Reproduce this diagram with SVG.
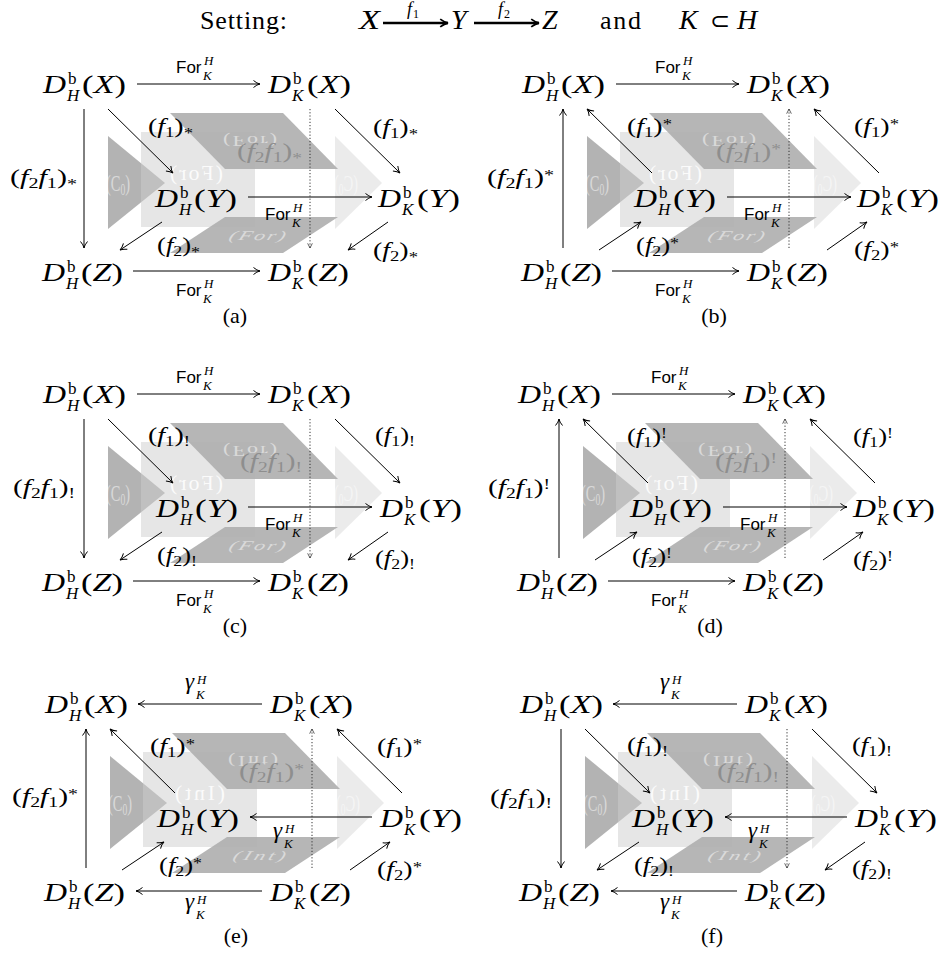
<svg xmlns="http://www.w3.org/2000/svg" xmlns:xlink="http://www.w3.org/1999/xlink" width="946" height="956" viewBox="0 0 946 956" font-family="'Liberation Serif', serif">
<style>
text{font-family:'Liberation Serif',serif;fill:#000}
.n{font-size:26px}
.sp{font-size:17px}
.i{font-style:italic}
.l{font-size:21px}
.g{font-size:23px;font-style:italic}
.s{font-size:14px}
.sf{font-family:'Liberation Sans',sans-serif;font-size:17px}
.sm{font-size:13px;font-style:italic}
.gh{fill:#fff;opacity:.5}
.gw{opacity:.85}
.gl{fill:#8e8e8e}
.cap{font-size:22px}
.e line{stroke:#000;stroke-width:1;marker-end:url(#ah)}
.e line.dt{stroke:#333;stroke-dasharray:1.2 2;marker-end:url(#ahd)}
</style>
<defs>
<marker id="ah" viewBox="0 0 9 9" refX="8" refY="4.5" markerWidth="9" markerHeight="9" orient="auto" markerUnits="userSpaceOnUse"><path d="M1.5,1 Q5,4 8,4.5 Q5,5 1.5,8" fill="none" stroke="#000" stroke-width="1"/></marker>
<marker id="ahd" viewBox="0 0 9 9" refX="8" refY="4.5" markerWidth="7" markerHeight="7" orient="auto" markerUnits="userSpaceOnUse"><path d="M2,1.5 L8,4.5 L2,7.5" fill="none" stroke="#333" stroke-width="1"/></marker>
<marker id="ahb" viewBox="0 0 9 9" refX="8" refY="4.5" markerWidth="10" markerHeight="10" orient="auto" markerUnits="userSpaceOnUse"><path d="M1,1 Q5,4 8,4.5 Q5,5 1,8" fill="none" stroke="#000" stroke-width="1.6"/></marker>
<g id="bg">
<polygon points="108,136 108,229 165,183" fill="#b3b3b3"/>
<polygon points="335,136 335,229 382,183" fill="#ebebeb"/>
<rect x="141" y="132" width="114" height="95" fill="#cdcdcd" fill-opacity="0.5"/>
<polygon points="170,113 283,113 338,169 225,169" fill="#b0b0b0" fill-opacity="0.92"/>
<polygon points="225,217 338,217 283,253 170,253" fill="#b0b0b0" fill-opacity="0.92"/>
</g>
</defs>
<rect width="946" height="956" fill="#fff"/>

<g id="title">
<text x="200" y="29" font-size="26" textLength="87">Setting:</text>
<text class="i" x="359" y="29" font-size="28" textLength="21" lengthAdjust="spacingAndGlyphs">X</text>
<line x1="383" y1="23" x2="448" y2="23" stroke="#000" stroke-width="2.6" marker-end="url(#ahb)"/>
<text class="i" x="407" y="15" font-size="18">f</text><text x="413" y="18" font-size="12">1</text>
<text class="i" x="451" y="29" font-size="28">Y</text>
<line x1="474" y1="23" x2="539" y2="23" stroke="#000" stroke-width="2.6" marker-end="url(#ahb)"/>
<text class="i" x="498" y="15" font-size="18">f</text><text x="504" y="18" font-size="12">2</text>
<text class="i" x="542" y="29" font-size="28">Z</text>
<text x="600" y="29" font-size="26" textLength="41">and</text>
<text class="i" x="679" y="29" font-size="28">K</text>
<text x="710" y="29" font-size="24">⊂</text>
<text class="i" x="737" y="29" font-size="28">H</text>
</g>

<!-- ============ PANEL A ============ -->
<g id="panel-a" transform="translate(0,0)">
<use href="#bg" xlink:href="#bg"/>
<text class="gh" font-size="24" transform="translate(106,191) scale(0.6,1)">(C<tspan font-size="16" dy="4">0</tspan><tspan dy="-4">)</tspan></text>
<text class="gh" font-size="24" transform="translate(358,191) scale(-0.6,1)">(C<tspan font-size="16" dy="4">0</tspan><tspan dy="-4">)</tspan></text>
<text class="gh gw" font-size="22" textLength="53" transform="translate(223,180) scale(-1,1)">(For)</text>
<text class="gh" font-size="22" textLength="54" transform="translate(223,136) scale(1,-0.65)">(For)</text>
<text class="gh i" font-size="22" textLength="56" transform="translate(228,240) skewX(-20) scale(1,0.6)">(For)</text>
<text class="l gl" x="237" y="158" textLength="65" lengthAdjust="spacingAndGlyphs">(<tspan class="i">f</tspan><tspan class="s" dy="4">2</tspan><tspan class="i" dy="-4">f</tspan><tspan class="s" dy="4">1</tspan><tspan dy="-4">)</tspan><tspan class="s" dy="5">*</tspan></text>
<g id="a-edges" class="e">
<line x1="137" y1="84" x2="260" y2="84"/>
<line x1="248" y1="197" x2="372" y2="197"/>
<line x1="133" y1="271" x2="260" y2="271"/>
<line x1="84" y1="109" x2="84" y2="248"/>
<line x1="108" y1="109" x2="173" y2="173"/>
<line x1="335" y1="109" x2="400" y2="173"/>
<line x1="162" y1="222" x2="120" y2="250"/>
<line x1="388" y1="222" x2="348" y2="250"/>
<line class="dt" x1="310" y1="109" x2="310" y2="248"/>
</g>
<g id="a-HX" transform="translate(43,93)"><text class="n i" textLength="23" lengthAdjust="spacingAndGlyphs">D</text><text class="sp" x="25" y="-9">b</text><text class="sp i" x="24" y="8">H</text><text class="n" x="39" textLength="44" lengthAdjust="spacingAndGlyphs">(<tspan class="i">X</tspan>)</text></g>
<g id="a-KX" transform="translate(268,93)"><text class="n i" textLength="23" lengthAdjust="spacingAndGlyphs">D</text><text class="sp" x="25" y="-9">b</text><text class="sp i" x="24" y="8">K</text><text class="n" x="39" textLength="44" lengthAdjust="spacingAndGlyphs">(<tspan class="i">X</tspan>)</text></g>
<g id="a-HY" transform="translate(155,207)"><text class="n i" textLength="23" lengthAdjust="spacingAndGlyphs">D</text><text class="sp" x="25" y="-9">b</text><text class="sp i" x="24" y="8">H</text><text class="n" x="39" textLength="43" lengthAdjust="spacingAndGlyphs">(<tspan class="i">Y</tspan>)</text></g>
<g id="a-KY" transform="translate(378,207)"><text class="n i" textLength="23" lengthAdjust="spacingAndGlyphs">D</text><text class="sp" x="25" y="-9">b</text><text class="sp i" x="24" y="8">K</text><text class="n" x="39" textLength="43" lengthAdjust="spacingAndGlyphs">(<tspan class="i">Y</tspan>)</text></g>
<g id="a-HZ" transform="translate(42,281)"><text class="n i" textLength="23" lengthAdjust="spacingAndGlyphs">D</text><text class="sp" x="25" y="-9">b</text><text class="sp i" x="24" y="8">H</text><text class="n" x="39" textLength="42" lengthAdjust="spacingAndGlyphs">(<tspan class="i">Z</tspan>)</text></g>
<g id="a-KZ" transform="translate(268,281)"><text class="n i" textLength="23" lengthAdjust="spacingAndGlyphs">D</text><text class="sp" x="25" y="-9">b</text><text class="sp i" x="24" y="8">K</text><text class="n" x="39" textLength="42" lengthAdjust="spacingAndGlyphs">(<tspan class="i">Z</tspan>)</text></g>
<g id="a-labels">
<text class="sf" x="176" y="73">For</text><text class="sm" x="204" y="65">H</text><text class="sm" x="203" y="80">K</text>
<text class="sf" x="265" y="220">For</text><text class="sm" x="293" y="212">H</text><text class="sm" x="292" y="227">K</text>
<text class="sf" x="176" y="296">For</text><text class="sm" x="204" y="288">H</text><text class="sm" x="203" y="303">K</text>
<text class="l" x="10" y="184" textLength="67" lengthAdjust="spacingAndGlyphs">(<tspan class="i">f</tspan><tspan class="s" dy="4">2</tspan><tspan class="i" dy="-4">f</tspan><tspan class="s" dy="4">1</tspan><tspan dy="-4">)</tspan><tspan class="s" dy="5">*</tspan></text>
<text class="l" x="148" y="133" textLength="45" lengthAdjust="spacingAndGlyphs">(<tspan class="i">f</tspan><tspan class="s" dy="4">1</tspan><tspan dy="-4">)</tspan><tspan class="s" dy="5">*</tspan></text>
<text class="l" x="373" y="134" textLength="45" lengthAdjust="spacingAndGlyphs">(<tspan class="i">f</tspan><tspan class="s" dy="4">1</tspan><tspan dy="-4">)</tspan><tspan class="s" dy="5">*</tspan></text>
<text class="l" x="157" y="252" textLength="43" lengthAdjust="spacingAndGlyphs">(<tspan class="i">f</tspan><tspan class="s" dy="4">2</tspan><tspan dy="-4">)</tspan><tspan class="s" dy="5">*</tspan></text>
<text class="l" x="373" y="257" textLength="45" lengthAdjust="spacingAndGlyphs">(<tspan class="i">f</tspan><tspan class="s" dy="4">2</tspan><tspan dy="-4">)</tspan><tspan class="s" dy="5">*</tspan></text>
</g>
<text class="cap" x="235" y="323" text-anchor="middle">(a)</text>
</g>

<!-- ============ PANEL B ============ -->
<g id="panel-b" transform="translate(479,0)">
<use href="#bg" xlink:href="#bg"/>
<text class="gh" font-size="24" transform="translate(106,191) scale(0.6,1)">(C<tspan font-size="16" dy="4">0</tspan><tspan dy="-4">)</tspan></text>
<text class="gh" font-size="24" transform="translate(358,191) scale(-0.6,1)">(C<tspan font-size="16" dy="4">0</tspan><tspan dy="-4">)</tspan></text>
<text class="gh gw" font-size="22" textLength="53" transform="translate(223,180) scale(-1,1)">(For)</text>
<text class="gh" font-size="22" textLength="54" transform="translate(223,136) scale(1,-0.65)">(For)</text>
<text class="gh i" font-size="22" textLength="56" transform="translate(228,240) skewX(-20) scale(1,0.6)">(For)</text>
<text class="l gl" x="237" y="158" textLength="65" lengthAdjust="spacingAndGlyphs">(<tspan class="i">f</tspan><tspan class="s" dy="4">2</tspan><tspan class="i" dy="-4">f</tspan><tspan class="s" dy="4">1</tspan><tspan dy="-4">)</tspan><tspan class="s" dy="-4">*</tspan></text>
<g id="b-edges" class="e">
<line x1="137" y1="84" x2="260" y2="84"/>
<line x1="248" y1="197" x2="372" y2="197"/>
<line x1="133" y1="271" x2="260" y2="271"/>
<line x1="84" y1="248" x2="84" y2="109"/>
<line x1="173" y1="173" x2="108" y2="109"/>
<line x1="400" y1="173" x2="335" y2="109"/>
<line x1="120" y1="250" x2="162" y2="222"/>
<line x1="348" y1="250" x2="388" y2="222"/>
<line class="dt" x1="310" y1="248" x2="310" y2="109"/>
</g>
<g id="b-HX" transform="translate(43,93)"><text class="n i" textLength="23" lengthAdjust="spacingAndGlyphs">D</text><text class="sp" x="25" y="-9">b</text><text class="sp i" x="24" y="8">H</text><text class="n" x="39" textLength="44" lengthAdjust="spacingAndGlyphs">(<tspan class="i">X</tspan>)</text></g>
<g id="b-KX" transform="translate(268,93)"><text class="n i" textLength="23" lengthAdjust="spacingAndGlyphs">D</text><text class="sp" x="25" y="-9">b</text><text class="sp i" x="24" y="8">K</text><text class="n" x="39" textLength="44" lengthAdjust="spacingAndGlyphs">(<tspan class="i">X</tspan>)</text></g>
<g id="b-HY" transform="translate(155,207)"><text class="n i" textLength="23" lengthAdjust="spacingAndGlyphs">D</text><text class="sp" x="25" y="-9">b</text><text class="sp i" x="24" y="8">H</text><text class="n" x="39" textLength="43" lengthAdjust="spacingAndGlyphs">(<tspan class="i">Y</tspan>)</text></g>
<g id="b-KY" transform="translate(378,207)"><text class="n i" textLength="23" lengthAdjust="spacingAndGlyphs">D</text><text class="sp" x="25" y="-9">b</text><text class="sp i" x="24" y="8">K</text><text class="n" x="39" textLength="43" lengthAdjust="spacingAndGlyphs">(<tspan class="i">Y</tspan>)</text></g>
<g id="b-HZ" transform="translate(42,281)"><text class="n i" textLength="23" lengthAdjust="spacingAndGlyphs">D</text><text class="sp" x="25" y="-9">b</text><text class="sp i" x="24" y="8">H</text><text class="n" x="39" textLength="42" lengthAdjust="spacingAndGlyphs">(<tspan class="i">Z</tspan>)</text></g>
<g id="b-KZ" transform="translate(268,281)"><text class="n i" textLength="23" lengthAdjust="spacingAndGlyphs">D</text><text class="sp" x="25" y="-9">b</text><text class="sp i" x="24" y="8">K</text><text class="n" x="39" textLength="42" lengthAdjust="spacingAndGlyphs">(<tspan class="i">Z</tspan>)</text></g>
<g id="b-labels">
<text class="sf" x="176" y="73">For</text><text class="sm" x="204" y="65">H</text><text class="sm" x="203" y="80">K</text>
<text class="sf" x="265" y="220">For</text><text class="sm" x="293" y="212">H</text><text class="sm" x="292" y="227">K</text>
<text class="sf" x="176" y="296">For</text><text class="sm" x="204" y="288">H</text><text class="sm" x="203" y="303">K</text>
<text class="l" x="8" y="184" textLength="67" lengthAdjust="spacingAndGlyphs">(<tspan class="i">f</tspan><tspan class="s" dy="4">2</tspan><tspan class="i" dy="-4">f</tspan><tspan class="s" dy="4">1</tspan><tspan dy="-4">)</tspan><tspan class="s" dy="-4">*</tspan></text>
<text class="l" x="148" y="133" textLength="45" lengthAdjust="spacingAndGlyphs">(<tspan class="i">f</tspan><tspan class="s" dy="4">1</tspan><tspan dy="-4">)</tspan><tspan class="s" dy="-4">*</tspan></text>
<text class="l" x="375" y="133" textLength="45" lengthAdjust="spacingAndGlyphs">(<tspan class="i">f</tspan><tspan class="s" dy="4">1</tspan><tspan dy="-4">)</tspan><tspan class="s" dy="-4">*</tspan></text>
<text class="l" x="157" y="252" textLength="43" lengthAdjust="spacingAndGlyphs">(<tspan class="i">f</tspan><tspan class="s" dy="4">2</tspan><tspan dy="-4">)</tspan><tspan class="s" dy="-4">*</tspan></text>
<text class="l" x="375" y="256" textLength="45" lengthAdjust="spacingAndGlyphs">(<tspan class="i">f</tspan><tspan class="s" dy="4">2</tspan><tspan dy="-4">)</tspan><tspan class="s" dy="-4">*</tspan></text>
</g>
<text class="cap" x="235" y="323" text-anchor="middle">(b)</text>
</g>

<!-- ============ PANEL C ============ -->
<g id="panel-c" transform="translate(0,310)">
<use href="#bg" xlink:href="#bg"/>
<text class="gh" font-size="24" transform="translate(106,191) scale(0.6,1)">(C<tspan font-size="16" dy="4">0</tspan><tspan dy="-4">)</tspan></text>
<text class="gh" font-size="24" transform="translate(358,191) scale(-0.6,1)">(C<tspan font-size="16" dy="4">0</tspan><tspan dy="-4">)</tspan></text>
<text class="gh gw" font-size="22" textLength="53" transform="translate(223,180) scale(-1,1)">(For)</text>
<text class="gh" font-size="22" textLength="54" transform="translate(223,136) scale(1,-0.65)">(For)</text>
<text class="gh i" font-size="22" textLength="56" transform="translate(228,240) skewX(-20) scale(1,0.6)">(For)</text>
<text class="l gl" x="240" y="158" textLength="62" lengthAdjust="spacingAndGlyphs">(<tspan class="i">f</tspan><tspan class="s" dy="4">2</tspan><tspan class="i" dy="-4">f</tspan><tspan class="s" dy="4">1</tspan><tspan dy="-4">)</tspan><tspan class="s" dy="4">!</tspan></text>
<g id="c-edges" class="e">
<line x1="137" y1="84" x2="260" y2="84"/>
<line x1="248" y1="197" x2="372" y2="197"/>
<line x1="133" y1="271" x2="260" y2="271"/>
<line x1="84" y1="109" x2="84" y2="248"/>
<line x1="108" y1="109" x2="173" y2="173"/>
<line x1="335" y1="109" x2="400" y2="173"/>
<line x1="162" y1="222" x2="120" y2="250"/>
<line x1="388" y1="222" x2="348" y2="250"/>
<line class="dt" x1="310" y1="109" x2="310" y2="248"/>
</g>
<g id="c-HX" transform="translate(43,93)"><text class="n i" textLength="23" lengthAdjust="spacingAndGlyphs">D</text><text class="sp" x="25" y="-9">b</text><text class="sp i" x="24" y="8">H</text><text class="n" x="39" textLength="44" lengthAdjust="spacingAndGlyphs">(<tspan class="i">X</tspan>)</text></g>
<g id="c-KX" transform="translate(268,93)"><text class="n i" textLength="23" lengthAdjust="spacingAndGlyphs">D</text><text class="sp" x="25" y="-9">b</text><text class="sp i" x="24" y="8">K</text><text class="n" x="39" textLength="44" lengthAdjust="spacingAndGlyphs">(<tspan class="i">X</tspan>)</text></g>
<g id="c-HY" transform="translate(156,207)"><text class="n i" textLength="23" lengthAdjust="spacingAndGlyphs">D</text><text class="sp" x="25" y="-9">b</text><text class="sp i" x="24" y="8">H</text><text class="n" x="39" textLength="43" lengthAdjust="spacingAndGlyphs">(<tspan class="i">Y</tspan>)</text></g>
<g id="c-KY" transform="translate(380,207)"><text class="n i" textLength="23" lengthAdjust="spacingAndGlyphs">D</text><text class="sp" x="25" y="-9">b</text><text class="sp i" x="24" y="8">K</text><text class="n" x="39" textLength="43" lengthAdjust="spacingAndGlyphs">(<tspan class="i">Y</tspan>)</text></g>
<g id="c-HZ" transform="translate(42,281)"><text class="n i" textLength="23" lengthAdjust="spacingAndGlyphs">D</text><text class="sp" x="25" y="-9">b</text><text class="sp i" x="24" y="8">H</text><text class="n" x="39" textLength="42" lengthAdjust="spacingAndGlyphs">(<tspan class="i">Z</tspan>)</text></g>
<g id="c-KZ" transform="translate(268,281)"><text class="n i" textLength="23" lengthAdjust="spacingAndGlyphs">D</text><text class="sp" x="25" y="-9">b</text><text class="sp i" x="24" y="8">K</text><text class="n" x="39" textLength="42" lengthAdjust="spacingAndGlyphs">(<tspan class="i">Z</tspan>)</text></g>
<g id="c-labels">
<text class="sf" x="176" y="73">For</text><text class="sm" x="204" y="65">H</text><text class="sm" x="203" y="80">K</text>
<text class="sf" x="265" y="220">For</text><text class="sm" x="293" y="212">H</text><text class="sm" x="292" y="227">K</text>
<text class="sf" x="176" y="296">For</text><text class="sm" x="204" y="288">H</text><text class="sm" x="203" y="303">K</text>
<text class="l" x="13" y="184" textLength="62" lengthAdjust="spacingAndGlyphs">(<tspan class="i">f</tspan><tspan class="s" dy="4">2</tspan><tspan class="i" dy="-4">f</tspan><tspan class="s" dy="4">1</tspan><tspan dy="-4">)</tspan><tspan class="s" dy="4">!</tspan></text>
<text class="l" x="148" y="132" textLength="42" lengthAdjust="spacingAndGlyphs">(<tspan class="i">f</tspan><tspan class="s" dy="4">1</tspan><tspan dy="-4">)</tspan><tspan class="s" dy="4">!</tspan></text>
<text class="l" x="375" y="132" textLength="40" lengthAdjust="spacingAndGlyphs">(<tspan class="i">f</tspan><tspan class="s" dy="4">1</tspan><tspan dy="-4">)</tspan><tspan class="s" dy="4">!</tspan></text>
<text class="l" x="157" y="252" textLength="40" lengthAdjust="spacingAndGlyphs">(<tspan class="i">f</tspan><tspan class="s" dy="4">2</tspan><tspan dy="-4">)</tspan><tspan class="s" dy="4">!</tspan></text>
<text class="l" x="375" y="255" textLength="40" lengthAdjust="spacingAndGlyphs">(<tspan class="i">f</tspan><tspan class="s" dy="4">2</tspan><tspan dy="-4">)</tspan><tspan class="s" dy="4">!</tspan></text>
</g>
<text class="cap" x="235" y="323" text-anchor="middle">(c)</text>
</g>

<!-- ============ PANEL D ============ -->
<g id="panel-d" transform="translate(475,310)">
<use href="#bg" xlink:href="#bg"/>
<text class="gh" font-size="24" transform="translate(106,191) scale(0.6,1)">(C<tspan font-size="16" dy="4">0</tspan><tspan dy="-4">)</tspan></text>
<text class="gh" font-size="24" transform="translate(358,191) scale(-0.6,1)">(C<tspan font-size="16" dy="4">0</tspan><tspan dy="-4">)</tspan></text>
<text class="gh gw" font-size="22" textLength="53" transform="translate(223,180) scale(-1,1)">(For)</text>
<text class="gh" font-size="22" textLength="54" transform="translate(223,136) scale(1,-0.65)">(For)</text>
<text class="gh i" font-size="22" textLength="56" transform="translate(228,240) skewX(-20) scale(1,0.6)">(For)</text>
<text class="l gl" x="240" y="158" textLength="62" lengthAdjust="spacingAndGlyphs">(<tspan class="i">f</tspan><tspan class="s" dy="4">2</tspan><tspan class="i" dy="-4">f</tspan><tspan class="s" dy="4">1</tspan><tspan dy="-4">)</tspan><tspan class="s" dy="-5">!</tspan></text>
<g id="d-edges" class="e">
<line x1="137" y1="84" x2="260" y2="84"/>
<line x1="248" y1="197" x2="372" y2="197"/>
<line x1="133" y1="271" x2="260" y2="271"/>
<line x1="84" y1="248" x2="84" y2="109"/>
<line x1="173" y1="173" x2="108" y2="109"/>
<line x1="400" y1="173" x2="335" y2="109"/>
<line x1="120" y1="250" x2="162" y2="222"/>
<line x1="348" y1="250" x2="388" y2="222"/>
<line class="dt" x1="310" y1="248" x2="310" y2="109"/>
</g>
<g id="d-HX" transform="translate(43,93)"><text class="n i" textLength="23" lengthAdjust="spacingAndGlyphs">D</text><text class="sp" x="25" y="-9">b</text><text class="sp i" x="24" y="8">H</text><text class="n" x="39" textLength="44" lengthAdjust="spacingAndGlyphs">(<tspan class="i">X</tspan>)</text></g>
<g id="d-KX" transform="translate(268,93)"><text class="n i" textLength="23" lengthAdjust="spacingAndGlyphs">D</text><text class="sp" x="25" y="-9">b</text><text class="sp i" x="24" y="8">K</text><text class="n" x="39" textLength="44" lengthAdjust="spacingAndGlyphs">(<tspan class="i">X</tspan>)</text></g>
<g id="d-HY" transform="translate(155,207)"><text class="n i" textLength="23" lengthAdjust="spacingAndGlyphs">D</text><text class="sp" x="25" y="-9">b</text><text class="sp i" x="24" y="8">H</text><text class="n" x="39" textLength="43" lengthAdjust="spacingAndGlyphs">(<tspan class="i">Y</tspan>)</text></g>
<g id="d-KY" transform="translate(378,207)"><text class="n i" textLength="23" lengthAdjust="spacingAndGlyphs">D</text><text class="sp" x="25" y="-9">b</text><text class="sp i" x="24" y="8">K</text><text class="n" x="39" textLength="43" lengthAdjust="spacingAndGlyphs">(<tspan class="i">Y</tspan>)</text></g>
<g id="d-HZ" transform="translate(42,281)"><text class="n i" textLength="23" lengthAdjust="spacingAndGlyphs">D</text><text class="sp" x="25" y="-9">b</text><text class="sp i" x="24" y="8">H</text><text class="n" x="39" textLength="42" lengthAdjust="spacingAndGlyphs">(<tspan class="i">Z</tspan>)</text></g>
<g id="d-KZ" transform="translate(268,281)"><text class="n i" textLength="23" lengthAdjust="spacingAndGlyphs">D</text><text class="sp" x="25" y="-9">b</text><text class="sp i" x="24" y="8">K</text><text class="n" x="39" textLength="42" lengthAdjust="spacingAndGlyphs">(<tspan class="i">Z</tspan>)</text></g>
<g id="d-labels">
<text class="sf" x="176" y="73">For</text><text class="sm" x="204" y="65">H</text><text class="sm" x="203" y="80">K</text>
<text class="sf" x="265" y="220">For</text><text class="sm" x="293" y="212">H</text><text class="sm" x="292" y="227">K</text>
<text class="sf" x="176" y="296">For</text><text class="sm" x="204" y="288">H</text><text class="sm" x="203" y="303">K</text>
<text class="l" x="13" y="184" textLength="62" lengthAdjust="spacingAndGlyphs">(<tspan class="i">f</tspan><tspan class="s" dy="4">2</tspan><tspan class="i" dy="-4">f</tspan><tspan class="s" dy="4">1</tspan><tspan dy="-4">)</tspan><tspan class="s" dy="-5">!</tspan></text>
<text class="l" x="152" y="133" textLength="40" lengthAdjust="spacingAndGlyphs">(<tspan class="i">f</tspan><tspan class="s" dy="4">1</tspan><tspan dy="-4">)</tspan><tspan class="s" dy="-5">!</tspan></text>
<text class="l" x="378" y="133" textLength="40" lengthAdjust="spacingAndGlyphs">(<tspan class="i">f</tspan><tspan class="s" dy="4">1</tspan><tspan dy="-4">)</tspan><tspan class="s" dy="-5">!</tspan></text>
<text class="l" x="157" y="253" textLength="40" lengthAdjust="spacingAndGlyphs">(<tspan class="i">f</tspan><tspan class="s" dy="4">2</tspan><tspan dy="-4">)</tspan><tspan class="s" dy="-5">!</tspan></text>
<text class="l" x="378" y="256" textLength="40" lengthAdjust="spacingAndGlyphs">(<tspan class="i">f</tspan><tspan class="s" dy="4">2</tspan><tspan dy="-4">)</tspan><tspan class="s" dy="-5">!</tspan></text>
</g>
<text class="cap" x="235" y="323" text-anchor="middle">(d)</text>
</g>

<!-- ============ PANEL E ============ -->
<g id="panel-e" transform="translate(2,620)">
<use href="#bg" xlink:href="#bg"/>
<text class="gh" font-size="24" transform="translate(106,191) scale(0.6,1)">(C<tspan font-size="16" dy="4">0</tspan><tspan dy="-4">)</tspan></text>
<text class="gh" font-size="24" transform="translate(358,191) scale(-0.6,1)">(C<tspan font-size="16" dy="4">0</tspan><tspan dy="-4">)</tspan></text>
<text class="gh gw" font-size="22" textLength="50" transform="translate(223,180) scale(-1,1)">(Int)</text>
<text class="gh" font-size="22" textLength="50" transform="translate(226,136) scale(1,-0.65)">(Int)</text>
<text class="gh i" font-size="22" textLength="52" transform="translate(230,240) skewX(-20) scale(1,0.6)">(Int)</text>
<text class="l gl" x="237" y="158" textLength="65" lengthAdjust="spacingAndGlyphs">(<tspan class="i">f</tspan><tspan class="s" dy="4">2</tspan><tspan class="i" dy="-4">f</tspan><tspan class="s" dy="4">1</tspan><tspan dy="-4">)</tspan><tspan class="s" dy="-4">*</tspan></text>
<g id="e-edges" class="e">
<line x1="260" y1="84" x2="136" y2="84"/>
<line x1="370" y1="197" x2="248" y2="197"/>
<line x1="260" y1="271" x2="134" y2="271"/>
<line x1="84" y1="248" x2="84" y2="109"/>
<line x1="173" y1="173" x2="108" y2="109"/>
<line x1="400" y1="173" x2="335" y2="109"/>
<line x1="120" y1="250" x2="162" y2="222"/>
<line x1="348" y1="250" x2="388" y2="222"/>
<line class="dt" x1="310" y1="248" x2="310" y2="109"/>
</g>
<g id="e-HX" transform="translate(43,93)"><text class="n i" textLength="23" lengthAdjust="spacingAndGlyphs">D</text><text class="sp" x="25" y="-9">b</text><text class="sp i" x="24" y="8">H</text><text class="n" x="39" textLength="44" lengthAdjust="spacingAndGlyphs">(<tspan class="i">X</tspan>)</text></g>
<g id="e-KX" transform="translate(268,93)"><text class="n i" textLength="23" lengthAdjust="spacingAndGlyphs">D</text><text class="sp" x="25" y="-9">b</text><text class="sp i" x="24" y="8">K</text><text class="n" x="39" textLength="44" lengthAdjust="spacingAndGlyphs">(<tspan class="i">X</tspan>)</text></g>
<g id="e-HY" transform="translate(155,207)"><text class="n i" textLength="23" lengthAdjust="spacingAndGlyphs">D</text><text class="sp" x="25" y="-9">b</text><text class="sp i" x="24" y="8">H</text><text class="n" x="39" textLength="43" lengthAdjust="spacingAndGlyphs">(<tspan class="i">Y</tspan>)</text></g>
<g id="e-KY" transform="translate(378,207)"><text class="n i" textLength="23" lengthAdjust="spacingAndGlyphs">D</text><text class="sp" x="25" y="-9">b</text><text class="sp i" x="24" y="8">K</text><text class="n" x="39" textLength="43" lengthAdjust="spacingAndGlyphs">(<tspan class="i">Y</tspan>)</text></g>
<g id="e-HZ" transform="translate(42,281)"><text class="n i" textLength="23" lengthAdjust="spacingAndGlyphs">D</text><text class="sp" x="25" y="-9">b</text><text class="sp i" x="24" y="8">H</text><text class="n" x="39" textLength="42" lengthAdjust="spacingAndGlyphs">(<tspan class="i">Z</tspan>)</text></g>
<g id="e-KZ" transform="translate(268,281)"><text class="n i" textLength="23" lengthAdjust="spacingAndGlyphs">D</text><text class="sp" x="25" y="-9">b</text><text class="sp i" x="24" y="8">K</text><text class="n" x="39" textLength="42" lengthAdjust="spacingAndGlyphs">(<tspan class="i">Z</tspan>)</text></g>
<g id="e-labels">
<text class="g" x="183" y="69">γ</text><text class="sm" x="195" y="64">H</text><text class="sm" x="194" y="79">K</text>
<text class="g" x="271" y="218">γ</text><text class="sm" x="283" y="213">H</text><text class="sm" x="282" y="228">K</text>
<text class="g" x="183" y="289">γ</text><text class="sm" x="195" y="284">H</text><text class="sm" x="194" y="299">K</text>
<text class="l" x="10" y="183" textLength="66" lengthAdjust="spacingAndGlyphs">(<tspan class="i">f</tspan><tspan class="s" dy="4">2</tspan><tspan class="i" dy="-4">f</tspan><tspan class="s" dy="4">1</tspan><tspan dy="-4">)</tspan><tspan class="s" dy="-4">*</tspan></text>
<text class="l" x="148" y="133" textLength="45" lengthAdjust="spacingAndGlyphs">(<tspan class="i">f</tspan><tspan class="s" dy="4">1</tspan><tspan dy="-4">)</tspan><tspan class="s" dy="-4">*</tspan></text>
<text class="l" x="375" y="133" textLength="45" lengthAdjust="spacingAndGlyphs">(<tspan class="i">f</tspan><tspan class="s" dy="4">1</tspan><tspan dy="-4">)</tspan><tspan class="s" dy="-4">*</tspan></text>
<text class="l" x="157" y="252" textLength="43" lengthAdjust="spacingAndGlyphs">(<tspan class="i">f</tspan><tspan class="s" dy="4">2</tspan><tspan dy="-4">)</tspan><tspan class="s" dy="-4">*</tspan></text>
<text class="l" x="375" y="256" textLength="45" lengthAdjust="spacingAndGlyphs">(<tspan class="i">f</tspan><tspan class="s" dy="4">2</tspan><tspan dy="-4">)</tspan><tspan class="s" dy="-4">*</tspan></text>
</g>
<text class="cap" x="234" y="323" text-anchor="middle">(e)</text>
</g>

<!-- ============ PANEL F ============ -->
<g id="panel-f" transform="translate(477,620)">
<use href="#bg" xlink:href="#bg"/>
<text class="gh" font-size="24" transform="translate(106,191) scale(0.6,1)">(C<tspan font-size="16" dy="4">0</tspan><tspan dy="-4">)</tspan></text>
<text class="gh" font-size="24" transform="translate(358,191) scale(-0.6,1)">(C<tspan font-size="16" dy="4">0</tspan><tspan dy="-4">)</tspan></text>
<text class="gh gw" font-size="22" textLength="50" transform="translate(223,180) scale(-1,1)">(Int)</text>
<text class="gh" font-size="22" textLength="50" transform="translate(226,136) scale(1,-0.65)">(Int)</text>
<text class="gh i" font-size="22" textLength="52" transform="translate(230,240) skewX(-20) scale(1,0.6)">(Int)</text>
<text class="l gl" x="240" y="158" textLength="62" lengthAdjust="spacingAndGlyphs">(<tspan class="i">f</tspan><tspan class="s" dy="4">2</tspan><tspan class="i" dy="-4">f</tspan><tspan class="s" dy="4">1</tspan><tspan dy="-4">)</tspan><tspan class="s" dy="4">!</tspan></text>
<g id="f-edges" class="e">
<line x1="260" y1="84" x2="136" y2="84"/>
<line x1="370" y1="197" x2="248" y2="197"/>
<line x1="260" y1="271" x2="134" y2="271"/>
<line x1="84" y1="109" x2="84" y2="248"/>
<line x1="108" y1="109" x2="173" y2="173"/>
<line x1="335" y1="109" x2="400" y2="173"/>
<line x1="162" y1="222" x2="120" y2="250"/>
<line x1="388" y1="222" x2="348" y2="250"/>
<line class="dt" x1="310" y1="109" x2="310" y2="248"/>
</g>
<g id="f-HX" transform="translate(43,93)"><text class="n i" textLength="23" lengthAdjust="spacingAndGlyphs">D</text><text class="sp" x="25" y="-9">b</text><text class="sp i" x="24" y="8">H</text><text class="n" x="39" textLength="44" lengthAdjust="spacingAndGlyphs">(<tspan class="i">X</tspan>)</text></g>
<g id="f-KX" transform="translate(268,93)"><text class="n i" textLength="23" lengthAdjust="spacingAndGlyphs">D</text><text class="sp" x="25" y="-9">b</text><text class="sp i" x="24" y="8">K</text><text class="n" x="39" textLength="44" lengthAdjust="spacingAndGlyphs">(<tspan class="i">X</tspan>)</text></g>
<g id="f-HY" transform="translate(155,207)"><text class="n i" textLength="23" lengthAdjust="spacingAndGlyphs">D</text><text class="sp" x="25" y="-9">b</text><text class="sp i" x="24" y="8">H</text><text class="n" x="39" textLength="43" lengthAdjust="spacingAndGlyphs">(<tspan class="i">Y</tspan>)</text></g>
<g id="f-KY" transform="translate(378,207)"><text class="n i" textLength="23" lengthAdjust="spacingAndGlyphs">D</text><text class="sp" x="25" y="-9">b</text><text class="sp i" x="24" y="8">K</text><text class="n" x="39" textLength="43" lengthAdjust="spacingAndGlyphs">(<tspan class="i">Y</tspan>)</text></g>
<g id="f-HZ" transform="translate(42,281)"><text class="n i" textLength="23" lengthAdjust="spacingAndGlyphs">D</text><text class="sp" x="25" y="-9">b</text><text class="sp i" x="24" y="8">H</text><text class="n" x="39" textLength="42" lengthAdjust="spacingAndGlyphs">(<tspan class="i">Z</tspan>)</text></g>
<g id="f-KZ" transform="translate(268,281)"><text class="n i" textLength="23" lengthAdjust="spacingAndGlyphs">D</text><text class="sp" x="25" y="-9">b</text><text class="sp i" x="24" y="8">K</text><text class="n" x="39" textLength="42" lengthAdjust="spacingAndGlyphs">(<tspan class="i">Z</tspan>)</text></g>
<g id="f-labels">
<text class="g" x="183" y="69">γ</text><text class="sm" x="195" y="64">H</text><text class="sm" x="194" y="79">K</text>
<text class="g" x="271" y="218">γ</text><text class="sm" x="283" y="213">H</text><text class="sm" x="282" y="228">K</text>
<text class="g" x="183" y="289">γ</text><text class="sm" x="195" y="284">H</text><text class="sm" x="194" y="299">K</text>
<text class="l" x="13" y="184" textLength="62" lengthAdjust="spacingAndGlyphs">(<tspan class="i">f</tspan><tspan class="s" dy="4">2</tspan><tspan class="i" dy="-4">f</tspan><tspan class="s" dy="4">1</tspan><tspan dy="-4">)</tspan><tspan class="s" dy="4">!</tspan></text>
<text class="l" x="150" y="132" textLength="41" lengthAdjust="spacingAndGlyphs">(<tspan class="i">f</tspan><tspan class="s" dy="4">1</tspan><tspan dy="-4">)</tspan><tspan class="s" dy="4">!</tspan></text>
<text class="l" x="375" y="132" textLength="40" lengthAdjust="spacingAndGlyphs">(<tspan class="i">f</tspan><tspan class="s" dy="4">1</tspan><tspan dy="-4">)</tspan><tspan class="s" dy="4">!</tspan></text>
<text class="l" x="157" y="252" textLength="40" lengthAdjust="spacingAndGlyphs">(<tspan class="i">f</tspan><tspan class="s" dy="4">2</tspan><tspan dy="-4">)</tspan><tspan class="s" dy="4">!</tspan></text>
<text class="l" x="375" y="255" textLength="40" lengthAdjust="spacingAndGlyphs">(<tspan class="i">f</tspan><tspan class="s" dy="4">2</tspan><tspan dy="-4">)</tspan><tspan class="s" dy="4">!</tspan></text>
</g>
<text class="cap" x="235" y="323" text-anchor="middle">(f)</text>
</g>
</svg>
